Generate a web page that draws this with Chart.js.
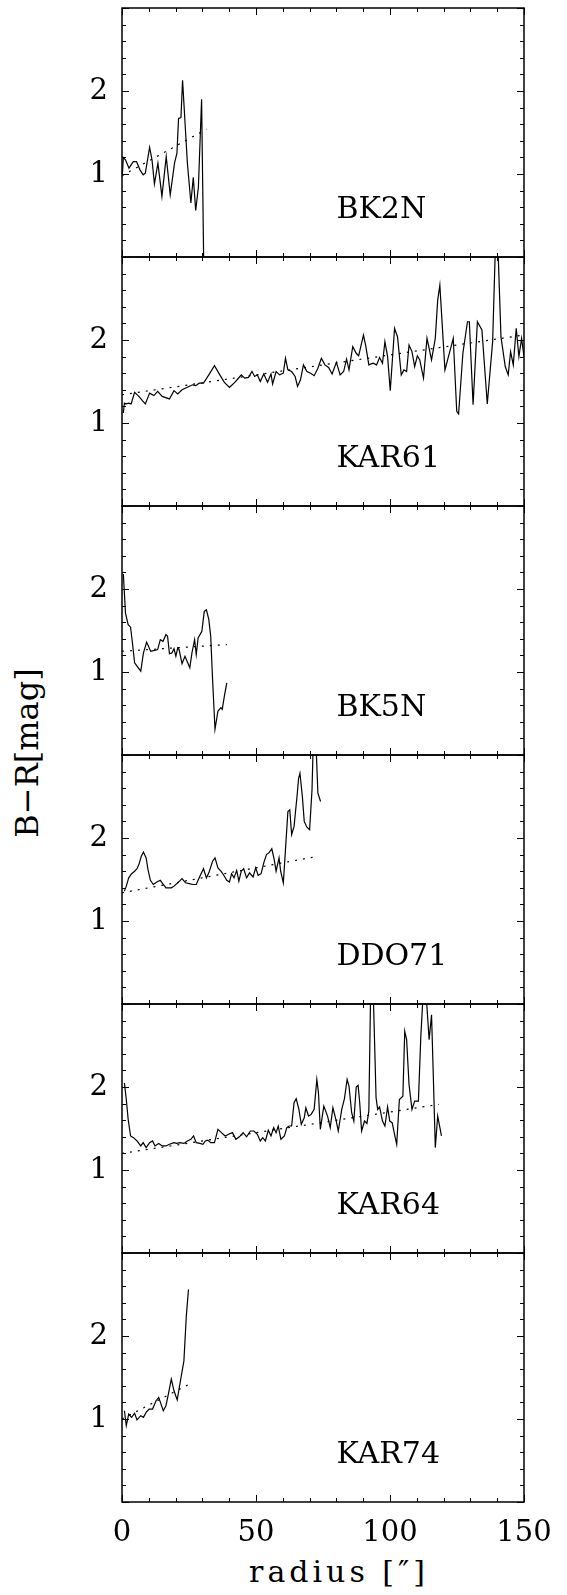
<!DOCTYPE html>
<html lang="en">

<head>
    <meta charset="UTF-8">
    <title>B-R colour profiles</title>
    <style>
        body {
            margin: 0;
            background: #fff;
        }

        #fig {
            position: relative;
            width: 567px;
            height: 1595px;
            overflow: hidden;
            font-family: "DejaVu Serif", serif;
            color: #000;
        }

        #fig canvas {
            position: absolute;
            left: 0;
        }

        #ytitle {
            position: absolute;
            left: 27px;
            top: 753px;
            transform: translate(-50%, -50%) rotate(-90deg);
            font-size: 32px;
            white-space: nowrap;
        }

        #xtitle {
            position: absolute;
            left: 339px;
            top: 1557px;
            transform: translateX(-50%);
            font-size: 30px;
            line-height: 30px;
            letter-spacing: 4px;
            white-space: nowrap;
        }
    </style>
    <script src="https://cdn.jsdelivr.net/npm/chart.js"></script>
</head>

<body>
    <div id="fig">
        <div id="ytitle">B−R[mag]</div>
        <div id="xtitle">radius [″]</div>
    </div>

    <script>
        // radius ["] and B-R colour
        const bk2nR = [0.1, 0.5, 1.3, 2.6, 4.2, 5.4, 6.7, 7.9, 8.7, 10.3, 11.2, 12.1, 13.4, 14.9, 16.5, 18.0, 19.6, 20.5, 21.1, 22.0, 22.6, 24.4, 25.7, 26.6, 27.5, 28.5, 29.7, 30.7];
        const bk2nC = [0.97, 1.20, 1.17, 1.07, 1.15, 1.15, 1.05, 0.99, 1.01, 1.32, 1.17, 0.88, 1.13, 0.73, 1.21, 0.75, 1.13, 1.25, 1.67, 1.68, 2.13, 1.13, 0.65, 0.96, 0.56, 0.84, 1.90, -0.60];

        const kar61R = [0.5, 0.9, 1.6, 2.5, 3.4, 4.7, 6.3, 7.6, 8.7, 10.3,
            11.9, 13.3, 15.0, 17.7, 19.4, 20.8, 22.4, 24.4, 26.4, 27.5,
            28.8, 30.4, 32.4, 34.5, 36.5, 38.2, 40.1, 41.8, 43.2, 44.5,
            45.8, 47.2, 48.5, 49.5, 50.5, 51.6, 52.9, 54.3, 55.6, 56.2,
            57.5, 58.8, 60.2, 61.0, 61.9, 63.3, 64.6, 65.5, 66.6, 67.7,
            69.0, 70.4, 71.7, 73.1, 74.4, 75.7, 77.1, 78.4, 80.0, 81.4,
            82.7, 83.8, 84.7, 86.1, 87.4, 88.3, 90.1, 91.0, 92.1, 93.7,
            95.0, 96.1, 97.2, 98.1, 99.1, 100.1, 101.7, 102.8, 104.2, 105.2,
            106.2, 107.1, 108.2, 109.2, 110.2, 111.1, 112.5, 113.8, 115.5, 116.9,
            117.8, 118.6, 120.5, 122.3, 123.6, 124.9, 125.6, 127.2, 128.9, 129.6,
            131.0, 132.6, 134.3, 136.3, 138.3, 139.3, 140.3, 141.4, 143.0, 144.1,
            145.0, 146.0, 147.1, 148.1, 149.1, 150];
        const kar61C = [1.12, 1.24, 1.23, 1.24, 1.23, 1.37, 1.32, 1.27, 1.23, 1.36,
            1.33, 1.38, 1.32, 1.29, 1.39, 1.35, 1.40, 1.43, 1.46, 1.45,
            1.48, 1.48, 1.58, 1.69, 1.58, 1.49, 1.43, 1.48, 1.53, 1.58,
            1.54, 1.55, 1.62, 1.56, 1.58, 1.50, 1.59, 1.49, 1.59, 1.47,
            1.62, 1.58, 1.60, 1.78, 1.64, 1.62, 1.56, 1.44, 1.52, 1.70,
            1.62, 1.60, 1.57, 1.66, 1.78, 1.70, 1.67, 1.59, 1.73, 1.58,
            1.62, 1.77, 1.64, 1.92, 1.84, 1.81, 2.06, 1.92, 1.70, 1.72,
            1.70, 1.79, 1.72, 1.98, 1.80, 1.39, 2.14, 2.04, 1.58, 1.64,
            1.62, 1.94, 1.86, 1.68, 1.81, 1.76, 1.54, 2.02, 1.76, 2.02,
            2.48, 2.66, 1.64, 1.86, 2.02, 1.14, 1.11, 1.84, 2.22, 2.22,
            1.22, 2.22, 2.12, 1.23, 1.98, 3.10, 3.10, 2.04, 1.68, 1.58,
            1.86, 1.70, 2.14, 1.80, 2.02, 1.80];

        const bk5nR = [0.5, 1.3, 2.3, 3.2, 3.9, 4.7, 5.6, 7.0, 8.0, 9.2,
            10.7, 12.1, 13.3, 14.3, 15.3, 16.4, 17.0, 17.7, 18.6, 19.4,
            20.1, 20.8, 21.3, 22.4, 23.5, 24.4, 25.3, 26.1, 27.1, 27.7,
            28.4, 29.8, 30.7, 31.5, 32.4, 33.1, 33.8, 34.7, 35.8, 36.9,
            37.4, 38.2, 39.1];
        const bk5nC = [2.18, 1.71, 1.57, 1.54, 1.35, 1.11, 1.07, 1.01, 1.23, 1.36,
            1.25, 1.26, 1.27, 1.39, 1.37, 1.45, 1.43, 1.22, 1.23, 1.28,
            1.19, 1.29, 1.27, 1.10, 1.19, 1.12, 1.05, 1.23, 1.39, 1.21,
            1.41, 1.49, 1.73, 1.75, 1.63, 1.43, 0.91, 0.31, 0.53, 0.57,
            0.55, 0.71, 0.87];

        const ddo71R = [0.9, 1.6, 2.5, 3.6, 4.7, 5.6, 6.3, 7.2, 8.0, 9.0,
            9.7, 10.6, 11.7, 13.0, 14.3, 15.4, 16.4, 18.4, 19.4, 20.8,
            22.4, 23.7, 25.1, 26.4, 27.7, 28.8, 30.4, 31.5, 32.4, 33.8,
            34.7, 35.8, 36.9, 37.8, 39.1, 40.1, 40.9, 41.8, 42.8, 43.6,
            44.5, 45.4, 46.5, 47.6, 48.9, 49.9, 50.8, 51.9, 52.9, 53.9,
            54.8, 55.9, 56.8, 57.5, 58.6, 59.2, 60.2, 61.0, 61.9, 62.6,
            63.3, 64.2, 65.3, 65.9, 66.4, 67.3, 68.0, 69.0, 70.0, 70.9,
            71.4, 72.3, 73.1, 74.1];
        const ddo71C = [1.36, 1.42, 1.52, 1.57, 1.60, 1.63, 1.68, 1.78, 1.83, 1.76,
            1.62, 1.49, 1.44, 1.47, 1.49, 1.44, 1.40, 1.40, 1.42, 1.46,
            1.51, 1.46, 1.45, 1.44, 1.44, 1.52, 1.63, 1.52, 1.58, 1.72,
            1.76, 1.64, 1.60, 1.56, 1.49, 1.47, 1.57, 1.52, 1.61, 1.48,
            1.60, 1.63, 1.52, 1.58, 1.53, 1.64, 1.55, 1.57, 1.70, 1.80,
            1.82, 1.87, 1.74, 1.60, 1.76, 1.60, 1.46, 1.86, 2.32, 2.34,
            2.04, 2.14, 2.50, 2.72, 2.78, 2.50, 2.20, 2.13, 2.10, 2.58,
            3.20, 3.20, 2.54, 2.44];

        const kar64R = [0.9, 1.6, 2.3, 3.2, 4.3, 5.6, 7.0, 7.9, 9.0, 10.3,
            11.4, 12.3, 13.7, 15.0, 16.4, 17.7, 19.4, 20.4, 21.7, 23.1,
            24.4, 25.7, 26.7, 27.7, 29.1, 30.2, 31.1, 32.0, 33.1, 34.5,
            35.8, 37.1, 38.5, 39.8, 41.2, 42.5, 43.8, 45.2, 46.5, 47.9,
            49.2, 50.5, 51.6, 52.5, 53.5, 54.6, 55.6, 56.6, 57.5, 58.3,
            59.3, 60.6, 61.5, 62.3, 63.3, 64.2, 65.0, 66.0, 66.9, 68.0,
            68.6, 69.6, 70.6, 71.7, 72.7, 73.3, 74.0, 75.3, 76.7, 77.7,
            78.7, 79.8, 80.7, 82.0, 83.0, 84.0, 84.7, 85.7, 86.5, 87.4,
            88.1, 88.7, 89.4, 90.5, 91.4, 92.1, 92.8, 93.7, 94.8, 95.4,
            96.1, 97.2, 98.1, 99.1, 99.9, 100.8, 101.7, 102.5, 103.5, 104.8,
            105.5, 106.2, 107.1, 108.2, 109.2, 110.6, 111.5, 112.5, 113.3, 114.6,
            115.5, 116.2, 116.9, 117.8, 119.2];
        const kar64C = [2.05, 1.85, 1.61, 1.41, 1.39, 1.35, 1.29, 1.33, 1.27, 1.33,
            1.35, 1.29, 1.32, 1.29, 1.29, 1.31, 1.33, 1.32, 1.33, 1.32,
            1.35, 1.37, 1.41, 1.33, 1.32, 1.31, 1.35, 1.36, 1.33, 1.33,
            1.49, 1.45, 1.41, 1.43, 1.45, 1.37, 1.40, 1.45, 1.40, 1.47,
            1.47, 1.43, 1.35, 1.39, 1.35, 1.48, 1.41, 1.51, 1.45, 1.53,
            1.37, 1.41, 1.51, 1.53, 1.53, 1.81, 1.86, 1.73, 1.55, 1.63,
            1.75, 1.65, 1.67, 1.73, 2.09, 1.93, 1.49, 1.77, 1.65, 1.51,
            1.75, 1.61, 1.47, 1.73, 1.86, 2.09, 2.01, 1.69, 1.59, 2.00,
            2.02, 1.81, 1.47, 1.59, 1.56, 1.71, 3.20, 3.20, 1.87, 1.73,
            1.76, 1.59, 1.53, 1.76, 1.59, 1.57, 1.43, 1.31, 1.85, 1.89,
            2.67, 2.57, 2.03, 1.73, 1.83, 1.83, 2.61, 3.20, 3.20, 2.57,
            2.87, 2.09, 1.27, 1.65, 1.41];

        const kar74R = [0.9, 1.6, 2.5, 3.6, 4.7, 5.6, 7.0, 8.0, 9.0, 10.1, 11.4, 12.7, 13.7, 15.4, 16.4, 17.3, 18.4, 19.4, 20.6, 21.7, 23.1, 24.0, 24.8];
        const kar74C = [1.10, 0.92, 1.06, 1.02, 1.07, 0.99, 1.04, 1.02, 1.08, 1.12, 1.12, 1.22, 1.26, 1.10, 1.16, 1.30, 1.48, 1.34, 1.23, 1.44, 1.70, 2.24, 2.56];

        // linear fits (dotted), end points
        const bk2nFitR = [0, 31.5], bk2nFitC = [0.98, 1.54];
        const kar61FitR = [0, 150], kar61FitC = [1.34, 2.06];
        const bk5nFitR = [0, 39.1], bk5nFitC = [1.25, 1.33];
        const ddo71FitR = [0, 73.1], ddo71FitC = [1.34, 1.78];
        const kar64FitR = [0, 118.2], kar64FitC = [1.20, 1.79];
        const kar74FitR = [0, 24.5], kar74FitC = [1.00, 1.41];

        const galaxyNames = ['BK2N', 'KAR61', 'BK5N', 'DDO71', 'KAR64', 'KAR74'];

        // axis ticks
        const xTickLabels = [0, 50, 100, 150];
        const yTickLabels = [1, 2];
        const xTickMarks = [0, 10, 20, 30, 40, 50, 60, 70, 80, 90, 100, 110, 120, 130, 140, 150];
        const yTickMarks = [0, 2, 4, 6, 8, 10, 12, 14, 16, 18, 20, 22, 24, 26, 28, 30].map(v => v / 10);

        const panels = [
            [bk2nR, bk2nC, bk2nFitR, bk2nFitC],
            [kar61R, kar61C, kar61FitR, kar61FitC],
            [bk5nR, bk5nC, bk5nFitR, bk5nFitC],
            [ddo71R, ddo71C, ddo71FitR, ddo71FitC],
            [kar64R, kar64C, kar64FitR, kar64FitC],
            [kar74R, kar74C, kar74FitR, kar74FitC]
        ];

        const toPoints = (r, c) => r.map((x, i) => ({ x: x, y: c[i] }));

        const tickFont = { family: 'DejaVu Serif', size: 29 };

        // frame, inward tick marks and galaxy name
        const framePlugin = {
            id: 'frame',
            afterDraw(chart, args, opts) {
                const { ctx, chartArea: a, scales: { x, y } } = chart;
                ctx.save();
                ctx.strokeStyle = '#000';
                ctx.lineWidth = 1;
                ctx.beginPath();
                xTickMarks.forEach(v => {
                    const px = Math.round(x.getPixelForValue(v)) + 0.5;
                    const len = v % 50 === 0 ? 7 : 4;
                    ctx.moveTo(px, a.bottom);
                    ctx.lineTo(px, a.bottom - len);
                    ctx.moveTo(px, a.top);
                    ctx.lineTo(px, a.top + len);
                });
                yTickMarks.forEach(v => {
                    const py = Math.round(y.getPixelForValue(v)) + 0.5;
                    const len = Number.isInteger(v) ? 7 : 4;
                    ctx.moveTo(a.left, py);
                    ctx.lineTo(a.left + len, py);
                    ctx.moveTo(a.right, py);
                    ctx.lineTo(a.right - len, py);
                });
                ctx.stroke();

                ctx.lineWidth = 1.5;
                ctx.strokeRect(a.left, a.top, a.right - a.left, a.bottom - a.top);

                ctx.fillStyle = '#000';
                ctx.font = '30px "DejaVu Serif"';
                ctx.textAlign = 'left';
                ctx.textBaseline = 'alphabetic';
                ctx.fillText(opts.name, x.getPixelForValue(80), y.getPixelForValue(0.47));
                ctx.restore();
            }
        };

        const fig = document.getElementById('fig');
        const panelTop = 8, panelHeight = 249, margin = 20;

        panels.forEach((p, i) => {
            const last = i === panels.length - 1;
            const top = panelTop + i * panelHeight - margin;
            const canvas = document.createElement('canvas');
            canvas.width = 567;
            canvas.height = last ? 1595 - top : panelHeight + 2 * margin;
            canvas.style.top = top + 'px';
            fig.appendChild(canvas);

            new Chart(canvas.getContext('2d'), {
                type: 'line',
                data: {
                    datasets: [{
                        data: toPoints(p[0], p[1]),
                        borderColor: '#000',
                        borderWidth: 1.2,
                        pointRadius: 0,
                        tension: 0,
                        fill: false
                    }, {
                        data: toPoints(p[2], p[3]),
                        borderColor: '#000',
                        borderWidth: 1.2,
                        borderDash: [2, 6],
                        pointRadius: 0,
                        fill: false
                    }]
                },
                options: {
                    responsive: false,
                    animation: false,
                    events: [],
                    devicePixelRatio: 1,
                    layout: {
                        padding: { top: margin, right: 43, bottom: last ? 0 : margin, left: 0 }
                    },
                    plugins: {
                        legend: { display: false },
                        tooltip: { enabled: false },
                        frame: { name: galaxyNames[i] }
                    },
                    scales: {
                        x: {
                            type: 'linear',
                            min: 0,
                            max: 150,
                            display: last,
                            afterBuildTicks: s => { s.ticks = xTickLabels.map(v => ({ value: v })); },
                            afterFit: s => {
                                s.height = last ? 93 : 0;
                                s.paddingLeft = s.paddingRight = 0;
                            },
                            ticks: { font: tickFont, color: '#000', padding: 14, maxRotation: 0 },
                            grid: { display: false, drawTicks: false },
                            border: { display: false }
                        },
                        y: {
                            type: 'linear',
                            min: 0,
                            max: 3,
                            afterBuildTicks: s => { s.ticks = yTickLabels.map(v => ({ value: v })); },
                            afterFit: s => {
                                s.width = 122;
                                s.paddingTop = s.paddingBottom = 0;
                            },
                            ticks: { font: tickFont, color: '#000', padding: 14 },
                            grid: { display: false, drawTicks: false },
                            border: { display: false }
                        }
                    }
                },
                plugins: [framePlugin]
            });
        });
    </script>
</body>

</html>
